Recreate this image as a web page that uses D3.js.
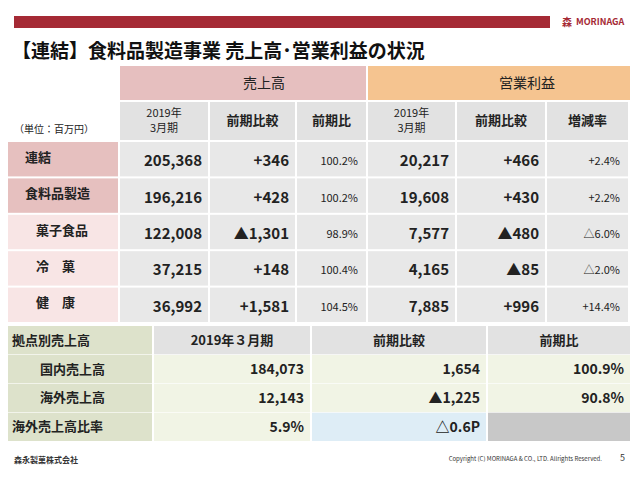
<!DOCTYPE html><html><head><meta charset="utf-8">
<script src="https://cdn.jsdelivr.net/npm/d3@7"></script>
<style>body{margin:0;background:#fff}svg{display:block}text{font-family:"Noto Sans CJK JP","Noto Sans",sans-serif}</style></head><body>
<script>
const rowLabels=["連結","食料品製造","菓子食品","冷　菓","健　康"];
const sales=["205,368","196,216","122,008","37,215","36,992"];
const salesDiff=["+346","+428","▲1,301","+148","+1,581"];
const salesRatio=["100.2%","100.2%","98.9%","100.4%","104.5%"];
const profit=["20,217","19,608","7,577","4,165","7,885"];
const profitDiff=["+466","+430","▲480","▲85","+996"];
const profitRate=["+2.4%","+2.2%","△6.0%","△2.0%","+14.4%"];
const regLabels=["国内売上高","海外売上高","海外売上高比率"];
const regSales=["184,073","12,143","5.9%"];
const regDiff=["1,654","▲1,225","△0.6P"];
const regRatio=["100.9%","90.8%",""];

const svg=d3.select("body").append("svg").attr("width",640).attr("height",480);
function rect(x,y,w,h,c){svg.append("rect").attr("x",x).attr("y",y).attr("width",w).attr("height",h).attr("fill",c);}
function txt(x,y,s,o={}){const t=svg.append("text").attr("x",x).attr("y",y).text(s).attr("font-size",o.fs||14).attr("font-weight",o.fw||"bold").attr("fill",o.c||"#222").attr("text-anchor",o.a||"start").attr("dominant-baseline","middle");return t;}

rect(14,16,536,12,"#a52a35");
txt(562,23,"森",{fs:10,c:"#a52a35"});
txt(576,23,"MORINAGA",{fs:9,c:"#a52a35"});
txt(12,53,"【連結】食料品製造事業 売上高･営業利益の状況",{fs:19,c:"#111"});

// top table
const colX=[120,210,297,368,457,547,630];
const xs=d3.scaleOrdinal().domain(d3.range(6)).range(colX);
rect(120,66,246,34,"#e6bfbf");rect(368,66,262,34,"#f5c490");
txt(243,84,"売上高",{fs:14,fw:"normal"});txt(499,84,"営業利益",{fs:14,fw:"normal"});
const hdr=["2019年|3月期","前期比較","前期比","2019年|3月期","前期比較","増減率"];
hdr.forEach((h,i)=>{const x0=colX[i],w=colX[i+1]-x0-2;rect(x0,102,w,38,"#e2e2e2");
 const p=h.split("|");if(p.length>1){txt(x0+w/2,114,p[0],{fs:11,fw:"normal",a:"middle"});txt(x0+w/2,129,p[1],{fs:11,fw:"normal",a:"middle"});}
 else txt(x0+w/2,121,h,{fs:13,a:"middle"});});
txt(14,130,"（単位：百万円）",{fs:10,fw:"normal"});
const rowY=d3.scaleBand().domain(d3.range(5)).range([142,322]).paddingInner(0.055);
const cols=[sales,salesDiff,salesRatio,profit,profitDiff,profitRate];
rowLabels.forEach((l,r)=>{const y=rowY(r),h=rowY.bandwidth(),cy=y+h/2+1;
 rect(8,y,110,h,r<2?"#e6c0bf":"#f8e5e5");
 txt(r<2?25:36,cy-2,l,{fs:13});
 cols.forEach((c,i)=>{const x0=colX[i],w=colX[i+1]-x0-2;rect(x0,y,w,h,"#e8e8e8");
  const small=(i==2||i==5);txt(x0+w-(small?8:6),cy+2,c[r],{fs:small?11:15,fw:small?"normal":"bold",a:"end"});});
});

// bottom table
const bx=[8,154,312,488,632];
const by=d3.scaleBand().domain(d3.range(4)).range([326,441]).paddingInner(0.02);
const bh=["拠点別売上高","2019年３月期","前期比較","前期比"];
bh.forEach((h,i)=>{const x0=bx[i],w=bx[i+1]-x0-2;rect(x0,by(0),w,by.bandwidth(),i?"#e2e2e2":"#dde2cb");
 txt(i?x0+w/2:12,by(0)+by.bandwidth()/2+1,h,{fs:13,a:i?"middle":"start"});});
const bcols=[regSales,regDiff,regRatio];
regLabels.forEach((l,r)=>{const y=by(r+1),h=by.bandwidth(),cy=y+h/2+1;
 rect(8,y,144,h,"#dde2cb");txt(r<2?40:12,cy,l,{fs:13});
 bcols.forEach((c,i)=>{const x0=bx[i+1],w=bx[i+2]-x0-2;
  let col="#f1f4e5";if(r==2&&i==1)col="#deedf6";if(r==2&&i==2)col="#c8c8c8";
  rect(x0,y,w,h,col);if(c[r])txt(x0+w-6,cy,c[r],{fs:14,a:"end"});});
});

txt(14,461,"森永製菓株式会社",{fs:8,c:"#333"});
txt(602,459,"Copyright (C) MORINAGA & CO., LTD. Allrights Reserved.",{fs:6,fw:"normal",a:"end",c:"#333"});
txt(620,459,"5",{fs:9,fw:"normal",c:"#333"});
</script></body></html>
